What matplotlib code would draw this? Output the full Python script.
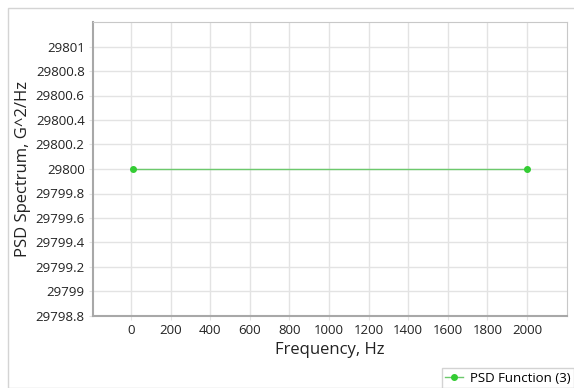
#!/usr/bin/env python3
import matplotlib
matplotlib.use("Agg")
import matplotlib.pyplot as plt
from matplotlib.patches import Rectangle
from matplotlib.ticker import FuncFormatter

# data
freq = [10, 2000]
psd = [29800, 29800]
x_ticks = [0, 200, 400, 600, 800, 1000, 1200, 1400, 1600, 1800, 2000]
y_ticks = [29798.8, 29799, 29799.2, 29799.4, 29799.6, 29799.8,
           29800, 29800.2, 29800.4, 29800.6, 29800.8, 29801]
series_name = "PSD Function (3)"

plt.rcParams["font.family"] = ["Open Sans", "DejaVu Sans"]


def fmt_y(v, pos):
    s = f"{v:.1f}"
    return s[:-2] if s.endswith(".0") else s


def main():
    fig = plt.figure(figsize=(5.74, 3.88), dpi=100)
    ax = fig.add_axes([93 / 574, 1 - 316 / 388, (567 - 93) / 574, (316 - 22) / 388])

    # outer frame
    fig.patches.append(Rectangle((8 / 574, 0), 1, 1 - 8 / 388, transform=fig.transFigure,
                                 fill=False, edgecolor="#d4d4d4", linewidth=1))

    ax.plot(freq, psd, color="#6cc96c", linewidth=1, marker="o", markersize=4,
            markerfacecolor="#33cc33", markeredgecolor="#33cc33", label=series_name)

    ax.set_xlim(-192, 2202)
    ax.set_ylim(29798.8, 29801.2)
    ax.set_xticks(x_ticks)
    ax.set_yticks(y_ticks)
    ax.yaxis.set_major_formatter(FuncFormatter(fmt_y))
    ax.grid(color="#e3e3e3", linewidth=1)
    ax.set_axisbelow(True)
    ax.tick_params(length=3, color="#e3e3e3", labelsize=9.5, labelcolor="#222222", pad=3)

    for side in ("top", "right"):
        ax.spines[side].set_color("#c8c8c8")
    for side in ("left", "bottom"):
        ax.spines[side].set_color("#a8a8a8")
        ax.spines[side].set_linewidth(1.5)

    ax.set_xlabel("Frequency, Hz", fontsize=12, color="#222222", labelpad=3)
    ax.set_ylabel("PSD Spectrum, G^2/Hz", fontsize=12, color="#222222", labelpad=3)

    leg = fig.legend(loc="lower right", bbox_to_anchor=(1.0, 0.0), fontsize=9.5,
                     frameon=True, fancybox=False, borderpad=0.25, handlelength=1.4,
                     handletextpad=0.5, borderaxespad=0.0)
    leg.get_frame().set_edgecolor("#c8c8c8")
    leg.get_frame().set_linewidth(1)

    fig.savefig("out.png", dpi=100)


if __name__ == "__main__":
    main()
